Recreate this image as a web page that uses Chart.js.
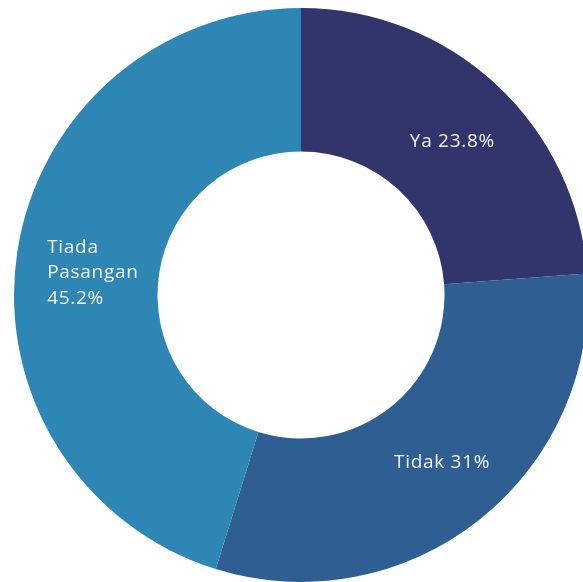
<!DOCTYPE html>
<html>
<head>
<meta charset="utf-8">
<script src="https://cdn.jsdelivr.net/npm/chart.js@4/dist/chart.umd.min.js"></script>
<style>
    html, body { margin: 0; padding: 0; overflow: hidden; background: #fff; }
    #wrap { position: absolute; left: 0; top: 0; width: 602px; height: 590px; }
</style>
</head>
<body>
<div id="wrap"><canvas id="pasanganChart"></canvas></div>
<script>
// Chart data
const categories = ['Ya', 'Tidak', 'Tiada Pasangan'];
const values = [23.8, 31, 45.2];
const valueLabels = ['23.8%', '31%', '45.2%'];
const sliceColors = ['#31356b', '#2f5f92', '#2e86b5'];

// Draw labels on each slice
const sliceLabels = {
    id: 'sliceLabels',
    afterDatasetsDraw(chart) {
        const ctx = chart.ctx;
        const arcs = chart.getDatasetMeta(0).data;
        ctx.save();
        ctx.fillStyle = '#f2f2f2';
        ctx.font = '19px "Open Sans", sans-serif';
        ctx.letterSpacing = '0.7px';
        ctx.textBaseline = 'alphabetic';
        arcs.forEach((arc, i) => {
            const pos = arc.tooltipPosition();
            if (i === 2) {
                // stacked label, left aligned
                const lines = ['Tiada', 'Pasangan', valueLabels[i]];
                ctx.textAlign = 'left';
                lines.forEach((line, j) => {
                    ctx.fillText(line, pos.x - 41, pos.y - 10 + j * 25.5);
                });
            } else {
                ctx.textAlign = 'center';
                const dx = i === 0 ? 5 : 7;
                const dy = i === 0 ? 10 : 5;
                ctx.fillText(categories[i] + ' ' + valueLabels[i], pos.x + dx, pos.y + dy);
            }
        });
        ctx.restore();
    }
};

const ctx = document.getElementById('pasanganChart').getContext('2d');
new Chart(ctx, {
    type: 'doughnut',
    data: {
        labels: categories,
        datasets: [{
            data: values,
            backgroundColor: sliceColors,
            borderWidth: 0
        }]
    },
    options: {
        responsive: true,
        maintainAspectRatio: false,
        animation: false,
        cutout: '50%',
        layout: {
            padding: { top: 8, bottom: 8, left: 0, right: 0 }
        },
        plugins: {
            legend: { display: false },
            tooltip: { enabled: false }
        }
    },
    plugins: [sliceLabels]
});
</script>
</body>
</html>
